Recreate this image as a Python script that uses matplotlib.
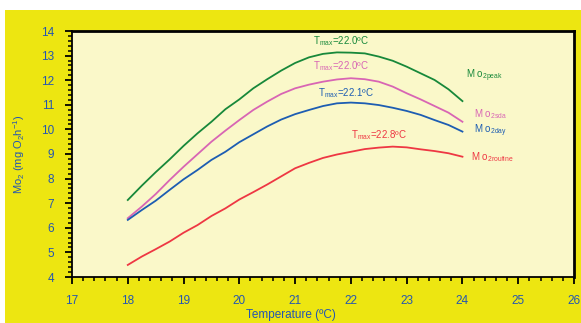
import matplotlib
matplotlib.use("Agg")
import matplotlib.pyplot as plt
from matplotlib.patches import Rectangle
from matplotlib.ticker import MultipleLocator

plt.rcParams['font.family'] = ['Liberation Sans', 'DejaVu Sans']
plt.rcParams['mathtext.fontset'] = 'custom'
plt.rcParams['mathtext.rm'] = 'Liberation Sans'

# data (every 0.25 degC)
temps = [18, 18.25, 18.5, 18.75, 19, 19.25, 19.5, 19.75, 20, 20.25, 20.5, 20.75, 21,
         21.25, 21.5, 21.75, 22, 22.25, 22.5, 22.75, 23, 23.25, 23.5, 23.75, 24]
mo_peak = [7.13, 7.71, 8.26, 8.78, 9.33, 9.84, 10.31, 10.82, 11.22, 11.67, 12.04, 12.39, 12.7,
           12.93, 13.07, 13.13, 13.12, 13.09, 12.96, 12.79, 12.55, 12.28, 12.01, 11.63, 11.15]
mo_sda = [6.39, 6.86, 7.37, 7.94, 8.48, 8.99, 9.5, 9.95, 10.38, 10.79, 11.13, 11.44, 11.67,
          11.82, 11.94, 12.03, 12.08, 12.04, 11.94, 11.74, 11.47, 11.22, 10.95, 10.68, 10.31]
mo_day = [6.32, 6.72, 7.1, 7.54, 7.97, 8.35, 8.76, 9.09, 9.48, 9.8, 10.12, 10.4, 10.62,
          10.79, 10.95, 11.06, 11.09, 11.06, 10.99, 10.88, 10.75, 10.59, 10.38, 10.18, 9.91]
mo_routine = [4.49, 4.83, 5.13, 5.44, 5.8, 6.11, 6.48, 6.79, 7.15, 7.45, 7.76, 8.09, 8.42,
              8.64, 8.84, 8.98, 9.09, 9.2, 9.26, 9.3, 9.27, 9.19, 9.12, 9.03, 8.89]

series = [
    (mo_peak, '#17883a', r'M o$_{\mathrm{2peak}}$', 24.06, 12.17, '22.0', 21.82, 13.6),
    (mo_sda, '#d865b4', r'M o$_{\mathrm{2sda}}$', 24.2, 10.63, '22.0', 21.82, 12.59),
    (mo_day, '#1d5db2', r'M o$_{\mathrm{2day}}$', 24.2, 9.93, '22.1', 21.91, 11.47),
    (mo_routine, '#ee3743', r'M o$_{\mathrm{2routine}}$', 24.16, 8.89, '22.8', 22.5, 9.77),
]

blue_txt = '#2456b0'
yellow = '#ede611'

fig = plt.figure(figsize=(5.81, 3.23), dpi=100)
fig.patch.set_facecolor('white')
bg = Rectangle((5 / 581, 0), 1, 1 - 10 / 323, transform=fig.transFigure,
               facecolor=yellow, edgecolor='none', zorder=-10)
fig.patches.append(bg)

ax = fig.add_axes([72 / 581, 46 / 323, 502 / 581, 246 / 323])
ax.set_facecolor('#faf8c9')

for vals, col, lab, lx, ly, tmax, tx, ty in series:
    ax.plot(temps, vals, color=col, lw=1.3)
    ax.text(lx, ly, lab, color=col, fontsize=7, va='center', ha='left')
    ax.text(tx, ty, r'T$_{\mathrm{max}}$=' + tmax + 'ºC', color=col, fontsize=7,
            ha='center', va='center')

ax.set_xlim(17, 26)
ax.set_ylim(4, 14)
ax.xaxis.set_major_locator(MultipleLocator(1))
ax.xaxis.set_minor_locator(MultipleLocator(0.2))
ax.yaxis.set_major_locator(MultipleLocator(1))
ax.yaxis.set_minor_locator(MultipleLocator(0.2))
ax.tick_params(which='major', direction='out', length=5, width=1.3, colors='black',
               labelcolor=blue_txt, labelsize=8.5, pad=8)
ax.tick_params(which='minor', direction='out', length=3, width=1.1, colors='black')
for s in ax.spines.values():
    s.set_color('black')
ax.spines['left'].set_linewidth(1.3)
ax.spines['bottom'].set_linewidth(1.3)
ax.spines['top'].set_linewidth(2)
ax.spines['right'].set_linewidth(2)

ax.set_ylabel(r'Mo$_{2}$ (mg O$_{2}$h$^{-1}$)', color=blue_txt, fontsize=8, labelpad=10)
fig.text(291 / 581, 1 - 309 / 323, 'Temperature (ºC)', color=blue_txt, fontsize=8.5,
         ha='center', va='top')

fig.savefig('out.png', dpi=100, facecolor=fig.get_facecolor())
